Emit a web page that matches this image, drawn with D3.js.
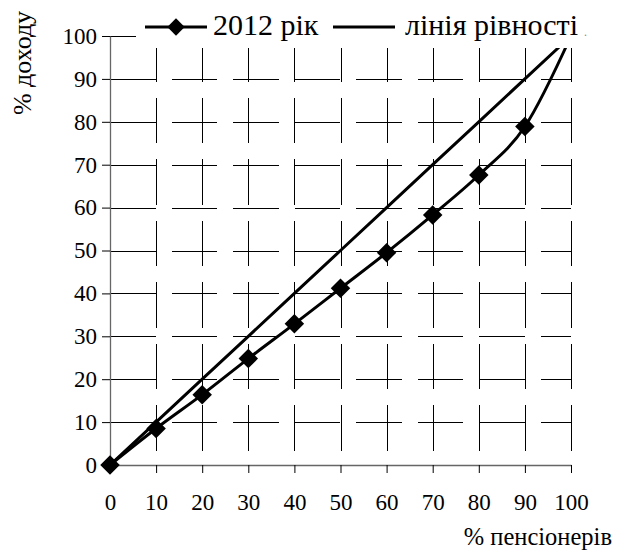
<!DOCTYPE html>
<html>
<head>
<meta charset="utf-8">
<script src="https://cdnjs.cloudflare.com/ajax/libs/d3/7.8.5/d3.min.js"></script>
<style>
  body { margin: 0; background: #fff; }
</style>
</head>
<body>
<script>
// chart values
const pensioners = [0, 10, 20, 30, 40, 50, 60, 70, 80, 90, 100];
const income2012 = [0, 8.5, 16.4, 24.8, 32.9, 41.2, 49.5, 58.3, 67.6, 78.9, 100];
const equality = [0, 10, 20, 30, 40, 50, 60, 70, 80, 90, 100];
const seriesNames = ["2012 рік", "лінія рівності"];
const xTicks = [0, 10, 20, 30, 40, 50, 60, 70, 80, 90, 100];
const yTicks = [0, 10, 20, 30, 40, 50, 60, 70, 80, 90, 100];
const xTitle = "% пенсіонерів";
const yTitle = "% доходу";

const width = 624;
const height = 551;
const plotLeft = 110, plotRight = 571, plotTop = 36, plotBottom = 465;
const serifFont = "'Liberation Serif'";

const svg = d3.select("body")
              .append("svg")
              .attr("width", width)
              .attr("height", height);

const x = d3.scaleLinear().domain([0, 100]).range([plotLeft, plotRight]);
const y = d3.scaleLinear().domain([0, 100]).range([plotBottom, plotTop]);

// dashed grid, horizontal runs from the left, vertical from the top
const grid = svg.append("g")
                .attr("stroke", "#000")
                .attr("stroke-width", 1)
                .attr("stroke-dasharray", "45.5,16")
                .attr("shape-rendering", "crispEdges");

grid.selectAll(".hgrid")
    .data(yTicks.filter(d => d > 0))
    .enter()
    .append("line")
    .attr("class", "hgrid")
    .attr("x1", plotLeft)
    .attr("x2", plotRight)
    .attr("y1", d => Math.round(y(d)) + 0.5)
    .attr("y2", d => Math.round(y(d)) + 0.5);

grid.selectAll(".vgrid")
    .data(xTicks.filter(d => d > 0))
    .enter()
    .append("line")
    .attr("class", "vgrid")
    .attr("x1", d => Math.round(x(d)) + 0.5)
    .attr("x2", d => Math.round(x(d)) + 0.5)
    .attr("y1", plotTop)
    .attr("y2", plotBottom);

// axes
const xAxis = d3.axisBottom(x).tickValues(xTicks).tickSize(8).tickSizeOuter(0).tickPadding(21);
const yAxis = d3.axisLeft(y).tickValues(yTicks).tickSize(8).tickSizeOuter(0).tickPadding(5);

const gx = svg.append("g")
   .attr("transform", "translate(0," + plotBottom + ")")
   .call(xAxis);
const gy = svg.append("g")
   .attr("transform", "translate(" + plotLeft + ",0)")
   .call(yAxis);

[gx, gy].forEach(g => {
    g.attr("font-family", null).attr("font-size", null);
    g.select(".domain").attr("stroke", "#666").attr("stroke-width", 1.3);
    g.selectAll(".tick line").attr("stroke", "#000");
    g.selectAll(".tick text")
     .style("font-family", serifFont)
     .style("font-size", "23px")
     .attr("fill", "#000");
});

// axis titles
svg.append("text")
   .attr("x", 612)
   .attr("y", 545)
   .attr("text-anchor", "end")
   .style("font-family", serifFont)
   .style("font-size", "24.5px")
   .text(xTitle);

svg.append("text")
   .attr("transform", "translate(31,63) rotate(-90)")
   .attr("text-anchor", "middle")
   .style("font-family", serifFont)
   .style("font-size", "26px")
   .text(yTitle);

// series
const line = d3.line()
               .x((d, i) => x(pensioners[i]))
               .y(d => y(d));

svg.append("path")
   .datum(equality)
   .attr("fill", "none")
   .attr("stroke", "#000")
   .attr("stroke-width", 3)
   .attr("d", line);

svg.append("path")
   .datum(income2012)
   .attr("fill", "none")
   .attr("stroke", "#000")
   .attr("stroke-width", 3)
   .attr("stroke-linejoin", "round")
   .attr("d", line.curve(d3.curveCardinal.tension(0)));

const diamond = d3.symbol().type(d3.symbolSquare).size(190);
const legendDiamond = d3.symbol().type(d3.symbolSquare).size(150);

svg.selectAll(".marker")
   .data(income2012)
   .enter()
   .append("path")
   .attr("class", "marker")
   .attr("d", diamond)
   .attr("fill", "#000")
   .attr("transform", (d, i) => "translate(" + x(pensioners[i]) + "," + y(d) + ") rotate(45)");

// legend box sits over the top of the plot
svg.append("rect")
   .attr("x", 136)
   .attr("y", 0)
   .attr("width", 470)
   .attr("height", 48)
   .attr("fill", "#fff");

const legend = svg.append("g");

legend.append("line")
      .attr("x1", 145).attr("x2", 207)
      .attr("y1", 27).attr("y2", 27)
      .attr("stroke", "#000").attr("stroke-width", 3);
legend.append("path")
      .attr("d", legendDiamond)
      .attr("fill", "#000")
      .attr("transform", "translate(176,27) rotate(45)");
legend.append("text")
      .attr("x", 213)
      .attr("y", 35)
      .style("font-family", serifFont)
      .style("font-size", "30px")
      .text(seriesNames[0]);

legend.append("line")
      .attr("x1", 333).attr("x2", 395)
      .attr("y1", 27).attr("y2", 27)
      .attr("stroke", "#000").attr("stroke-width", 3);
legend.append("text")
      .attr("x", 405)
      .attr("y", 35)
      .style("font-family", serifFont)
      .style("font-size", "30px")
      .text(seriesNames[1]);

legend.append("text")
      .attr("x", 584)
      .attr("y", 36)
      .style("font-family", serifFont)
      .style("font-size", "12px")
      .style("fill", "#888")
      .text(".");
</script>
</body>
</html>
